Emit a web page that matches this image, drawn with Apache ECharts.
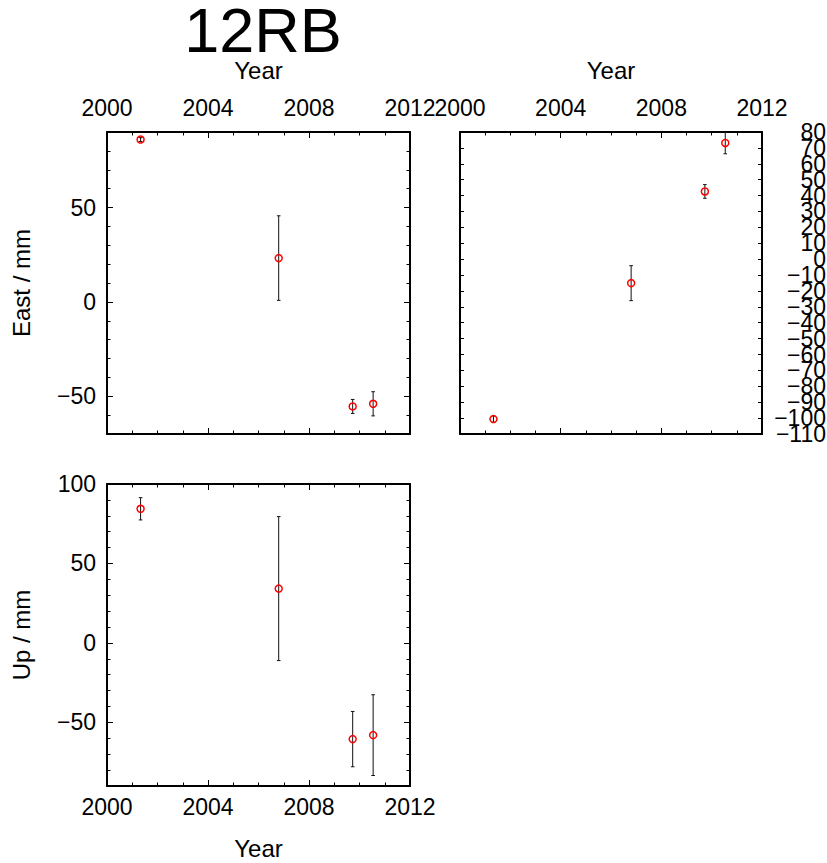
<!DOCTYPE html>
<html>
<head>
<meta charset="utf-8">
<script src="https://cdn.jsdelivr.net/npm/echarts@6/dist/echarts.min.js"></script>
<style>
  html, body { margin: 0; padding: 0; background: #fff; }
  #chart { width: 827px; height: 863px; }
</style>
</head>
<body>
<div id="chart"></div>
<script>
// ---- data ----
const years     = [2001.33, 2006.8, 2009.73, 2010.54];
const eastVal   = [86, 23.2, -55.4, -54];
const eastErr   = [1, 22.4, 3.7, 6.4];
const northVal  = [-100.6, -15.1, 42.6, 73.1];
const northErr  = [2, 11, 4.3, 6.8];
const upVal     = [84.4, 34.2, -60.5, -58];
const upErr     = [7, 45.3, 17.4, 25.4];
const xTicks     = [2000, 2004, 2008, 2012];
const eastTicks  = [-50, 0, 50];
const northTicks = [-110, -100, -90, -80, -70, -60, -50, -40, -30, -20, -10, 0, 10, 20, 30, 40, 50, 60, 70, 80];
const upTicks    = [-50, 0, 50, 100];
const titleText = '12RB';
const xName = 'Year';

const FONT = 'Liberation Sans';
const fmt = v => (v < 0 ? '\u2212' + Math.abs(v) : String(v));

const panels = [
  { rect: { left: 107, top: 132, width: 303, height: 302 }, yMin: -70, yMax: 90, major: eastTicks,
    majorLen: 6, minorLen: 3.5, xLabel: 'top', yLabel: 'left', yName: 'East / mm', val: eastVal, err: eastErr },
  { rect: { left: 460, top: 132, width: 302, height: 302 }, yMin: -110, yMax: 80, major: northTicks,
    majorLen: 4, minorLen: 4, xLabel: 'top', yLabel: 'right', yName: '', val: northVal, err: northErr },
  { rect: { left: 107, top: 484, width: 303, height: 302 }, yMin: -90, yMax: 100, major: upTicks,
    majorLen: 6, minorLen: 3.5, xLabel: 'bottom', yLabel: 'left', yName: 'Up / mm', val: upVal, err: upErr }
];

const black = '#000';
const lineStyle = { color: black, width: 2 };
const tickStyle = { color: black, width: 1 };
const labelBase = { color: black, fontFamily: FONT, fontSize: 23, hideOverlap: false };

const grid = [], xAxis = [], yAxis = [], series = [];

panels.forEach((p, i) => {
  const gMain = grid.length;
  grid.push(Object.assign({ outerBoundsMode: 'none', containLabel: false }, p.rect));
  const gOver = grid.length;
  grid.push(Object.assign({ outerBoundsMode: 'none', containLabel: false }, p.rect));

  const xBase = (pos) => ({
    gridIndex: gMain, type: 'value', min: xTicks[0], max: xTicks[xTicks.length - 1], interval: 4, position: pos,
    axisLine: { show: true, onZero: false, lineStyle },
    axisTick: { show: true, inside: true, length: 6, lineStyle: tickStyle },
    minorTick: { show: true, splitNumber: 4, length: 3.5, lineStyle: tickStyle },
    splitLine: { show: false }, minorSplitLine: { show: false },
    axisLabel: Object.assign({}, labelBase, {
      show: p.xLabel === pos, margin: pos === 'top' ? 13 : 9, showMinLabel: true, showMaxLabel: true,
      formatter: v => String(v)
    }),
    name: p.xLabel === pos ? xName : '', nameLocation: 'middle', nameGap: 50,
    nameTextStyle: { color: black, fontFamily: FONT, fontSize: 24 }
  });
  const xBottom = xAxis.length; xAxis.push(xBase('bottom'));
  xAxis.push(xBase('top'));
  xAxis.push({ gridIndex: gOver, type: 'value', min: xTicks[0], max: xTicks[xTicks.length - 1], show: false });

  // labels: when they are dense (right panel), split them over two overlaid axes so none is dropped
  const dense = p.major.length > 6;
  const labA = dense ? p.major.filter((v, k) => k % 2 === 0) : p.major;
  const labB = dense ? p.major.filter((v, k) => k % 2 === 1) : [];

  const yMajor = (pos) => ({
    gridIndex: gMain, type: 'value', min: p.yMin, max: p.yMax, position: pos,
    axisLine: { show: true, onZero: false, lineStyle },
    axisTick: { show: true, inside: true, length: p.majorLen, lineStyle: tickStyle, customValues: p.major },
    splitLine: { show: false },
    axisLabel: Object.assign({}, labelBase, {
      show: p.yLabel === pos, customValues: labA, formatter: fmt,
      margin: pos === 'right' ? 64 : 11, align: 'right', showMinLabel: true, showMaxLabel: true
    }),
    name: pos === 'left' ? p.yName : '', nameLocation: 'middle', nameGap: 74,
    nameTextStyle: { color: black, fontFamily: FONT, fontSize: 24 }
  });
  const yLeft = yAxis.length; yAxis.push(yMajor('left'));
  yAxis.push(yMajor('right'));
  const yMinor = (pos) => ({
    gridIndex: gOver, type: 'value', min: p.yMin, max: p.yMax, interval: 10, position: pos,
    axisLine: { show: false },
    axisTick: { show: true, inside: true, length: p.minorLen, lineStyle: tickStyle },
    splitLine: { show: false },
    axisLabel: Object.assign({}, labelBase, {
      show: dense && p.yLabel === pos, customValues: labB.length ? labB : undefined, formatter: fmt,
      margin: pos === 'right' ? 64 : 11, align: 'right', showMinLabel: true, showMaxLabel: true
    })
  });
  yAxis.push(yMinor('left'));
  yAxis.push(yMinor('right'));

  series.push({
    type: 'custom', xAxisIndex: xBottom, yAxisIndex: yLeft, z: 3, silent: true,
    data: years.map((y, k) => [y, p.val[k] - p.err[k], p.val[k] + p.err[k]]),
    encode: { x: 0, y: [1, 2] },
    renderItem: (params, api) => {
      const top = api.coord([api.value(0), api.value(2)]);
      const bot = api.coord([api.value(0), api.value(1)]);
      const w = 1.8;
      const st = { stroke: '#111', lineWidth: 1 };
      return { type: 'group', children: [
        { type: 'line', shape: { x1: top[0], y1: top[1], x2: bot[0], y2: bot[1] }, style: st },
        { type: 'line', shape: { x1: top[0] - w, y1: top[1], x2: top[0] + w, y2: top[1] }, style: st },
        { type: 'line', shape: { x1: bot[0] - w, y1: bot[1], x2: bot[0] + w, y2: bot[1] }, style: st }
      ] };
    }
  });
  series.push({
    type: 'scatter', xAxisIndex: xBottom, yAxisIndex: yLeft, z: 4, silent: true,
    symbol: 'circle', symbolSize: 7,
    itemStyle: { color: 'rgba(0,0,0,0)', borderColor: '#ff0000', borderWidth: 1.5, opacity: 1 },
    data: years.map((y, k) => [y, p.val[k]])
  });
});

const chart = echarts.init(document.getElementById('chart'), null, { renderer: 'svg' });
chart.setOption({
  animation: false,
  backgroundColor: '#fff',
  title: {
    text: titleText, left: 258, top: 0, textAlign: 'center',
    textStyle: { color: black, fontFamily: FONT, fontSize: 63, fontWeight: 'normal', lineHeight: 50 }
  },
  grid, xAxis, yAxis, series
});
</script>
</body>
</html>
